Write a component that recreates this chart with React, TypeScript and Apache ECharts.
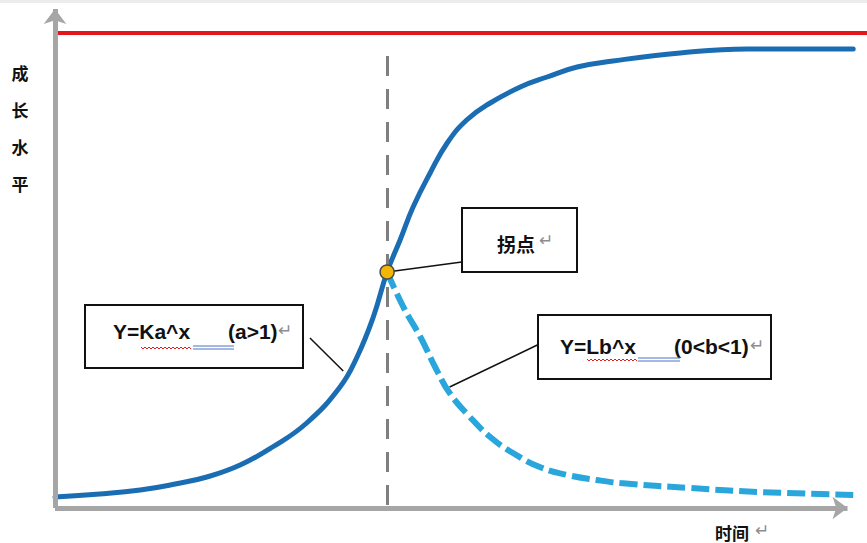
import React, { useEffect, useRef } from "react";
import * as echarts from "echarts";

// S-curve (growth level over time)
const growthX = [0, 5.5, 10.5, 14.8, 18.7, 22.8, 26.8, 31.0, 35.1, 37.2, 39.2, 40.9, 42.5, 44.1, 46.2, 48.3, 50.7, 53.6, 57.3, 60.6, 64.3, 68.7, 77.0, 85.2, 98.3];
const growthY = [2.2, 2.8, 3.6, 4.8, 6.2, 8.6, 12.2, 17.0, 24.2, 30.2, 38.2, 47.2, 53.6, 60.2, 67.0, 73.0, 77.6, 81.0, 84.2, 86.2, 88.2, 89.4, 91.0, 91.8, 91.8];
// decay branch after the inflection point
const decayX = [40.9, 42.9, 45.0, 47.0, 48.6, 51.1, 53.6, 56.4, 59.7, 63.1, 66.7, 69.6, 78.2, 86.8, 98.8];
const decayY = [47.2, 40.2, 34.2, 27.6, 23.0, 18.2, 14.2, 11.0, 8.2, 6.6, 5.6, 5.0, 4.0, 3.2, 2.6];
// ceiling (red line)
const ceilingX = [0, 100];
const ceilingY = [95.0, 95.0];
// inflection point
const inflection = [40.9, 47.2];
const dividerYRange = [0.6, 92.6];
// axis extents (arrow ends)
const xAxisEnd = 97.6;
const yAxisEnd = 99.8;
// leader lines [from, to]
const leaderKa = [[31.4, 34.0], [35.5, 27.4]];
const leaderInflect = [[40.9, 47.2], [50.1, 49.2]];
const leaderLb = [[48.6, 24.2], [59.4, 32.6]];

const yAxisChars = ["成", "长", "水", "平"];
const xAxisTitle = "时间";
const inflectLabel = "拐点";
const formulaK = ["Y=Ka^x", "(a>1)"];
const formulaL = ["Y=Lb^x", "(0<b<1)"];

const zip = (xs: number[], ys: number[]) => xs.map((x, i) => [x, ys[i]]);

function wavy(x0: number, x1: number, y: number) {
  const pts: number[][] = [];
  let up = true;
  for (let x = x0; x <= x1; x += 2) {
    pts.push([x, up ? y - 1 : y + 1]);
    up = !up;
  }
  return pts;
}

export default function App() {
  const ref = useRef<HTMLDivElement>(null);
  useEffect(() => {
    document.body.style.margin = "0";
    const chart = echarts.init(ref.current!, null, { renderer: "svg" });
    const axisCommon = {
      type: "value" as const,
      min: 0,
      max: 100,
      axisLine: { show: false },
      axisTick: { show: false },
      axisLabel: { show: false },
      splitLine: { show: false },
    };
    const fontF = "'Liberation Sans', Arial, sans-serif";
    const cjkF = "'Noto Sans CJK SC', sans-serif";
    const arrowF = "'DejaVu Sans', sans-serif";
    const ret = (x: number, y: number, z = 11) => ({
      type: "text",
      x,
      y,
      z,
      style: { text: "↵", font: `17px ${arrowF}`, fill: "#8c8c8c", verticalAlign: "middle" },
    });
    const graphics: any[] = [
      { type: "rect", shape: { x: 0, y: 0, width: 867, height: 3 }, style: { fill: "#ececec" }, silent: true },
      ...yAxisChars.map((c, i) => ({
        type: "text",
        x: 20,
        y: 72 + i * 37,
        style: { text: c, font: `bold 17px ${cjkF}`, fill: "#111", align: "center", verticalAlign: "middle" },
      })),
      { type: "text", x: 715, y: 532, style: { text: xAxisTitle, font: `bold 17px ${cjkF}`, fill: "#111", verticalAlign: "middle" } },
      ret(755, 530, 1),
      // inflection box
      { type: "rect", shape: { x: 462, y: 208, width: 115, height: 64 }, style: { fill: "#fff", stroke: "#111", lineWidth: 2 }, z: 10 },
      { type: "text", x: 497, y: 243, style: { text: inflectLabel, font: `bold 19px ${cjkF}`, fill: "#111", verticalAlign: "middle" }, z: 11 },
      ret(539, 240),
      // Ka box
      { type: "rect", shape: { x: 85, y: 305, width: 218, height: 63 }, style: { fill: "#fff", stroke: "#111", lineWidth: 2 }, z: 10 },
      { type: "text", x: 113, y: 331, style: { text: formulaK[0], font: `bold 21px ${fontF}`, fill: "#111", verticalAlign: "middle" }, z: 11 },
      { type: "text", x: 228, y: 331, style: { text: formulaK[1], font: `bold 21px ${fontF}`, fill: "#111", verticalAlign: "middle" }, z: 11 },
      ret(278, 330),
      { type: "polyline", shape: { points: wavy(141, 192, 348) }, style: { stroke: "#e02020", lineWidth: 1, fill: null }, z: 11 },
      { type: "line", shape: { x1: 193, y1: 346, x2: 234, y2: 346 }, style: { stroke: "#4a72c4", lineWidth: 1 }, z: 11 },
      { type: "line", shape: { x1: 193, y1: 349, x2: 234, y2: 349 }, style: { stroke: "#4a72c4", lineWidth: 1 }, z: 11 },
      // Lb box
      { type: "rect", shape: { x: 538, y: 315, width: 233, height: 64 }, style: { fill: "#fff", stroke: "#111", lineWidth: 2 }, z: 10 },
      { type: "text", x: 560, y: 346, style: { text: formulaL[0], font: `bold 21px ${fontF}`, fill: "#111", verticalAlign: "middle" }, z: 11 },
      { type: "text", x: 674, y: 346, style: { text: formulaL[1], font: `bold 21px ${fontF}`, fill: "#111", verticalAlign: "middle" }, z: 11 },
      ret(750, 345),
      { type: "polyline", shape: { points: wavy(587, 638, 360) }, style: { stroke: "#e02020", lineWidth: 1, fill: null }, z: 11 },
      { type: "line", shape: { x1: 638, y1: 358, x2: 680, y2: 358 }, style: { stroke: "#4a72c4", lineWidth: 1 }, z: 11 },
      { type: "line", shape: { x1: 638, y1: 361, x2: 680, y2: 361 }, style: { stroke: "#4a72c4", lineWidth: 1 }, z: 11 },
    ];
    const leader = (pair: number[][]) => [
      { coord: pair[0], symbol: "none", lineStyle: { color: "#111", width: 1.5, type: "solid" } },
      { coord: pair[1], symbol: "none" },
    ];
    const axisStyle = { color: "#a6a6a6", width: 5, type: "solid" };
    chart.setOption({
      animation: false,
      backgroundColor: "#ffffff",
      grid: { left: 55, right: 0, top: 8, bottom: 35 },
      xAxis: axisCommon,
      yAxis: axisCommon,
      graphic: graphics,
      series: [
        {
          type: "line",
          data: [],
          z: 1,
          markLine: {
            silent: true,
            symbol: ["none", "arrow"],
            symbolSize: [17, 15],
            label: { show: false },
            data: [
              [
                { coord: [0, 0], symbol: "none", lineStyle: axisStyle },
                { coord: [0, yAxisEnd], symbol: "arrow" },
              ],
              [
                { coord: [0, 0], symbol: "none", lineStyle: axisStyle },
                { coord: [xAxisEnd, 0], symbol: "arrow" },
              ],
              [
                { coord: [inflection[0], dividerYRange[0]], symbol: "none", lineStyle: { color: "#7f7f7f", width: 3, type: [20, 13] } },
                { coord: [inflection[0], dividerYRange[1]], symbol: "none" },
              ],
              leader(leaderKa),
              leader(leaderInflect),
              leader(leaderLb),
            ],
          },
        },
        {
          type: "line",
          data: zip(ceilingX, ceilingY),
          symbol: "none",
          z: 2,
          lineStyle: { color: "#e3161b", width: 4 },
        },
        {
          type: "line",
          data: zip(decayX, decayY),
          symbol: "none",
          smooth: 0.45,
          z: 3,
          lineStyle: { color: "#29a6dc", width: 6, type: [18, 6] },
        },
        {
          type: "line",
          data: zip(growthX, growthY),
          symbol: "none",
          smooth: 0.45,
          z: 4,
          lineStyle: { color: "#1b6db3", width: 5, cap: "round" },
        },
        {
          type: "scatter",
          data: [inflection],
          symbolSize: 14,
          z: 5,
          itemStyle: { color: "#f2b705", borderColor: "#4a4a4a", borderWidth: 1.5, opacity: 1 },
        },
      ],
    });
    return () => chart.dispose();
  }, []);
  return <div ref={ref} style={{ position: "absolute", left: 0, top: 0, width: 867, height: 543 }} />;
}
